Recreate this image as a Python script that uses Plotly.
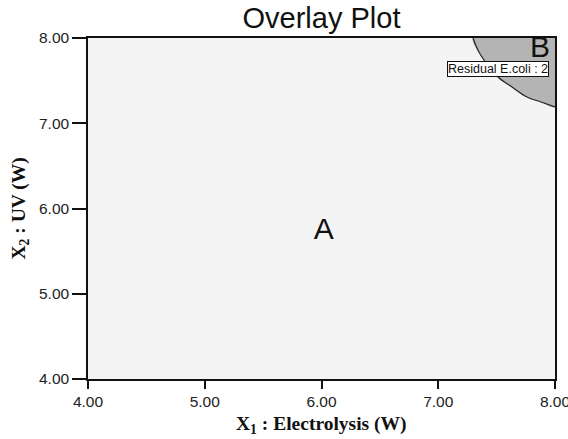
import plotly.graph_objects as go

# Contour "Residual E.coli : 2" boundary points (X1, X2)
contour_x1 = [7.298, 7.358, 7.512, 7.632, 7.760, 7.880, 8.0]
contour_x2 = [8.0, 7.812, 7.543, 7.425, 7.308, 7.249, 7.191]

x_ticks = [4.0, 5.0, 6.0, 7.0, 8.0]
y_ticks = [4.0, 5.0, 6.0, 7.0, 8.0]
tick_labels = ["4.00", "5.00", "6.00", "7.00", "8.00"]

region_labels = ["A", "B"]
region_x = [6.02, 7.872]
region_y = [5.736, 7.86]

contour_label = "Residual E.coli : 2"
contour_label_x = 7.512
contour_label_y = 7.636

SANS = "Liberation Sans, Arial, sans-serif"
SERIF = "Liberation Serif, Times New Roman, serif"

fig = go.Figure()

# Gray region B: polygon bounded by contour and top-right corner
fig.add_trace(go.Scatter(
    x=contour_x1 + [8.0, contour_x1[0]],
    y=contour_x2 + [8.0, contour_x2[0]],
    mode="lines", fill="toself", fillcolor="#b4b4b4",
    line=dict(color="rgba(0,0,0,0)", width=0, shape="spline"),
    hoverinfo="skip", showlegend=False))

fig.add_trace(go.Scatter(
    x=contour_x1, y=contour_x2, mode="lines",
    line=dict(color="#222222", width=1.2, shape="spline"),
    hoverinfo="skip", showlegend=False))

fig.add_trace(go.Scatter(
    x=region_x, y=region_y, mode="text", text=region_labels,
    textfont=dict(family=SANS, size=30, color="#111111"),
    hoverinfo="skip", showlegend=False))

fig.add_annotation(
    x=contour_label_x, y=contour_label_y, text=contour_label, showarrow=False,
    font=dict(family=SANS, size=12.5, color="#111111"),
    bgcolor="white", bordercolor="#111111", borderwidth=1, borderpad=0)

# Axis titles
fig.add_annotation(
    x=0.5, y=0, xref="paper", yref="paper", yanchor="middle", yshift=-46,
    text="<b>X<sub>1</sub> : Electrolysis (W)</b>", showarrow=False,
    font=dict(family=SERIF, size=19.5, color="#111111"))
fig.add_annotation(
    x=0, y=0.5, xref="paper", yref="paper", xanchor="center", xshift=-69,
    textangle=-90,
    text="<b>X<sub>2</sub> : UV (W)</b>", showarrow=False,
    font=dict(family=SERIF, size=19.5, color="#111111"))

fig.update_layout(
    width=568, height=439,
    margin=dict(l=88, r=13, t=38, b=60, autoexpand=False),
    paper_bgcolor="white", plot_bgcolor="#f4f4f4",
    title=dict(text="Overlay Plot", x=0.5, xref="paper", xanchor="center",
               y=1 - 18 / 439, yanchor="middle", automargin=False,
               font=dict(family=SANS, size=29, color="#111111")),
    xaxis=dict(range=[4, 8], tickvals=x_ticks, ticktext=tick_labels,
               ticks="outside", ticklen=8, tickwidth=1.5, tickcolor="#111111",
               showgrid=False, zeroline=False, showline=True, linecolor="#111111",
               linewidth=1.5, mirror=True, ticklabeloverflow="allow", automargin=False,
               tickfont=dict(family=SANS, size=15.5, color="#222222")),
    yaxis=dict(range=[4, 8], tickvals=y_ticks, ticktext=tick_labels,
               ticks="outside", ticklen=14, tickwidth=1.5, tickcolor="#111111",
               showgrid=False, zeroline=False, showline=True, linecolor="#111111",
               linewidth=1.5, mirror=True, automargin=False,
               tickfont=dict(family=SANS, size=15.5, color="#222222")),
)

fig.write_html(
    "out.html",
    config={"displayModeBar": False},
    post_script="document.body.style.margin='0';document.body.style.overflow='hidden';",
)
